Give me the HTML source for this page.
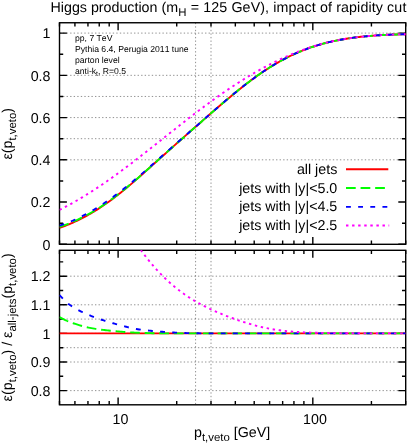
<!DOCTYPE html>
<html><head><meta charset="utf-8"><title>Higgs production</title>
<style>html,body{margin:0;padding:0;background:#fff}body{width:407px;height:443px;overflow:hidden;font-family:"Liberation Sans",sans-serif}svg text{font-family:"Liberation Sans",sans-serif;font-kerning:none;text-rendering:geometricPrecision}svg{opacity:0.999;will-change:transform}</style>
</head><body>
<svg width="407" height="443" viewBox="0 0 407 443" style="display:block;font-family:'Liberation Sans',sans-serif">
<rect width="407" height="443" fill="#fff"/>
<defs>
<clipPath id="ct"><rect x="59.5" y="22.75" width="346.2" height="221.55"/></clipPath>
<clipPath id="cb"><rect x="59.5" y="250.3" width="346.2" height="154.5"/></clipPath>
</defs>
<g fill="none"><path d="M59.5,33.10H405.7" stroke="#222" stroke-width="0.5" stroke-dasharray="1.35,2.2"/><path d="M59.5,75.34H405.7" stroke="#222" stroke-width="0.5" stroke-dasharray="1.35,2.2"/><path d="M59.5,96.46H405.7" stroke="#222" stroke-width="0.5" stroke-dasharray="1.35,2.2"/><path d="M59.5,117.58H405.7" stroke="#222" stroke-width="0.5" stroke-dasharray="1.35,2.2"/><path d="M59.5,138.70H405.7" stroke="#222" stroke-width="0.5" stroke-dasharray="1.35,2.2"/><path d="M59.5,159.82H405.7" stroke="#222" stroke-width="0.5" stroke-dasharray="1.35,2.2"/><path d="M195.59,22.75V244.3" stroke="#222" stroke-width="0.5" stroke-dasharray="1.35,2.2"/><path d="M195.59,250.3V404.8" stroke="#222" stroke-width="0.5" stroke-dasharray="1.35,2.2"/><path d="M211.00,22.75V244.3" stroke="#222" stroke-width="0.5" stroke-dasharray="1.35,2.2"/><path d="M211.00,250.3V404.8" stroke="#222" stroke-width="0.5" stroke-dasharray="1.35,2.2"/><path d="M59.5,276.18H405.7" stroke="#222" stroke-width="0.5" stroke-dasharray="1.35,2.2"/><path d="M59.5,304.79H405.7" stroke="#222" stroke-width="0.5" stroke-dasharray="1.35,2.2"/><path d="M59.5,319.09H405.7" stroke="#222" stroke-width="0.5" stroke-dasharray="1.35,2.2"/><path d="M59.5,333.40H405.7" stroke="#222" stroke-width="0.5" stroke-dasharray="1.35,2.2"/><path d="M59.5,347.70H405.7" stroke="#222" stroke-width="0.5" stroke-dasharray="1.35,2.2"/><path d="M59.5,362.01H405.7" stroke="#222" stroke-width="0.5" stroke-dasharray="1.35,2.2"/><path d="M59.5,390.62H405.7" stroke="#222" stroke-width="0.5" stroke-dasharray="1.35,2.2"/></g>
<path d="M74.92,244.3v-3.7M74.92,22.75v3.7M74.92,404.8v-3.7M74.92,250.3v3.7M87.95,244.3v-3.7M87.95,22.75v3.7M87.95,404.8v-3.7M87.95,250.3v3.7M99.24,244.3v-3.7M99.24,22.75v3.7M99.24,404.8v-3.7M99.24,250.3v3.7M109.20,244.3v-3.7M109.20,22.75v3.7M109.20,404.8v-3.7M109.20,250.3v3.7M176.72,244.3v-3.7M176.72,22.75v3.7M176.72,404.8v-3.7M176.72,250.3v3.7M211.00,244.3v-3.7M211.00,22.75v3.7M211.00,404.8v-3.7M211.00,250.3v3.7M235.33,244.3v-3.7M235.33,22.75v3.7M235.33,404.8v-3.7M235.33,250.3v3.7M254.20,244.3v-3.7M254.20,22.75v3.7M254.20,404.8v-3.7M254.20,250.3v3.7M269.61,244.3v-3.7M269.61,22.75v3.7M269.61,404.8v-3.7M269.61,250.3v3.7M282.65,244.3v-3.7M282.65,22.75v3.7M282.65,404.8v-3.7M282.65,250.3v3.7M293.94,244.3v-3.7M293.94,22.75v3.7M293.94,404.8v-3.7M293.94,250.3v3.7M303.90,244.3v-3.7M303.90,22.75v3.7M303.90,404.8v-3.7M303.90,250.3v3.7M371.42,244.3v-3.7M371.42,22.75v3.7M371.42,404.8v-3.7M371.42,250.3v3.7M405.70,244.3v-3.7M405.70,22.75v3.7M405.70,404.8v-3.7M405.70,250.3v3.7M59.50,244.3v-3.7M59.50,22.75v3.7M59.50,404.8v-3.7M59.50,250.3v3.7M118.11,244.3v-7.4M118.11,22.75v7.4M118.11,404.8v-7.4M118.11,250.3v7.4M312.81,244.3v-7.4M312.81,22.75v7.4M312.81,404.8v-7.4M312.81,250.3v7.4M59.5,244.30h7.4M405.7,244.30h-7.4M59.5,223.18h3.7M405.7,223.18h-3.7M59.5,202.06h7.4M405.7,202.06h-7.4M59.5,180.94h3.7M405.7,180.94h-3.7M59.5,159.82h7.4M405.7,159.82h-7.4M59.5,138.70h3.7M405.7,138.70h-3.7M59.5,117.58h7.4M405.7,117.58h-7.4M59.5,96.46h3.7M405.7,96.46h-3.7M59.5,75.34h7.4M405.7,75.34h-7.4M59.5,54.22h3.7M405.7,54.22h-3.7M59.5,33.10h7.4M405.7,33.10h-7.4M59.5,390.62h7.4M405.7,390.62h-7.4M59.5,376.31h3.7M405.7,376.31h-3.7M59.5,362.01h7.4M405.7,362.01h-7.4M59.5,347.70h3.7M405.7,347.70h-3.7M59.5,333.40h7.4M405.7,333.40h-7.4M59.5,319.09h3.7M405.7,319.09h-3.7M59.5,304.79h7.4M405.7,304.79h-7.4M59.5,290.48h3.7M405.7,290.48h-3.7M59.5,276.18h7.4M405.7,276.18h-7.4M59.5,261.88h3.7M405.7,261.88h-3.7" stroke="#000" stroke-width="1.4" fill="none"/>
<rect x="59.5" y="22.75" width="346.2" height="221.55" fill="none" stroke="#000" stroke-width="1.4"/>
<rect x="59.5" y="250.3" width="346.2" height="154.5" fill="none" stroke="#000" stroke-width="1.4"/>
<g fill="none" stroke-width="1.9" clip-path="url(#ct)">
<path d="M59.50,227.90 L60.95,227.38 L62.40,226.86 L63.85,226.31 L65.29,225.76 L66.74,225.19 L68.19,224.61 L69.64,224.01 L71.09,223.39 L72.54,222.76 L73.99,222.12 L75.43,221.46 L76.88,220.78 L78.33,220.09 L79.78,219.38 L81.23,218.66 L82.68,217.91 L84.13,217.16 L85.57,216.38 L87.02,215.59 L88.47,214.79 L89.92,213.96 L91.37,213.13 L92.82,212.27 L94.26,211.40 L95.71,210.51 L97.16,209.60 L98.61,208.68 L100.06,207.74 L101.51,206.78 L102.96,205.81 L104.40,204.82 L105.85,203.82 L107.30,202.80 L108.75,201.77 L110.20,200.72 L111.65,199.65 L113.10,198.57 L114.54,197.48 L115.99,196.37 L117.44,195.25 L118.89,194.12 L120.34,192.97 L121.79,191.81 L123.24,190.63 L124.68,189.45 L126.13,188.25 L127.58,187.05 L129.03,185.83 L130.48,184.60 L131.93,183.37 L133.38,182.12 L134.82,180.87 L136.27,179.61 L137.72,178.34 L139.17,177.06 L140.62,175.78 L142.07,174.50 L143.52,173.21 L144.96,171.91 L146.41,170.61 L147.86,169.31 L149.31,168.01 L150.76,166.70 L152.21,165.40 L153.65,164.09 L155.10,162.78 L156.55,161.48 L158.00,160.17 L159.45,158.87 L160.90,157.57 L162.35,156.27 L163.79,154.97 L165.24,153.67 L166.69,152.37 L168.14,151.08 L169.59,149.78 L171.04,148.49 L172.49,147.20 L173.93,145.91 L175.38,144.62 L176.83,143.33 L178.28,142.05 L179.73,140.77 L181.18,139.48 L182.63,138.20 L184.07,136.92 L185.52,135.65 L186.97,134.37 L188.42,133.09 L189.87,131.82 L191.32,130.54 L192.77,129.27 L194.21,128.00 L195.66,126.73 L197.11,125.46 L198.56,124.19 L200.01,122.92 L201.46,121.66 L202.91,120.39 L204.35,119.12 L205.80,117.86 L207.25,116.60 L208.70,115.33 L210.15,114.07 L211.60,112.81 L213.04,111.55 L214.49,110.29 L215.94,109.04 L217.39,107.79 L218.84,106.54 L220.29,105.29 L221.74,104.04 L223.18,102.80 L224.63,101.57 L226.08,100.34 L227.53,99.11 L228.98,97.90 L230.43,96.68 L231.88,95.48 L233.32,94.28 L234.77,93.08 L236.22,91.90 L237.67,90.72 L239.12,89.55 L240.57,88.39 L242.02,87.24 L243.46,86.10 L244.91,84.97 L246.36,83.85 L247.81,82.74 L249.26,81.64 L250.71,80.55 L252.16,79.47 L253.60,78.41 L255.05,77.36 L256.50,76.31 L257.95,75.29 L259.40,74.27 L260.85,73.27 L262.29,72.28 L263.74,71.30 L265.19,70.34 L266.64,69.39 L268.09,68.46 L269.54,67.54 L270.99,66.63 L272.43,65.74 L273.88,64.86 L275.33,64.00 L276.78,63.15 L278.23,62.32 L279.68,61.50 L281.13,60.69 L282.57,59.90 L284.02,59.13 L285.47,58.37 L286.92,57.63 L288.37,56.90 L289.82,56.19 L291.27,55.49 L292.71,54.80 L294.16,54.13 L295.61,53.48 L297.06,52.84 L298.51,52.21 L299.96,51.60 L301.41,51.01 L302.85,50.42 L304.30,49.85 L305.75,49.30 L307.20,48.76 L308.65,48.23 L310.10,47.72 L311.55,47.22 L312.99,46.73 L314.44,46.26 L315.89,45.80 L317.34,45.35 L318.79,44.91 L320.24,44.49 L321.68,44.07 L323.13,43.67 L324.58,43.29 L326.03,42.91 L327.48,42.54 L328.93,42.19 L330.38,41.85 L331.82,41.51 L333.27,41.19 L334.72,40.88 L336.17,40.58 L337.62,40.29 L339.07,40.00 L340.52,39.73 L341.96,39.47 L343.41,39.21 L344.86,38.97 L346.31,38.73 L347.76,38.51 L349.21,38.29 L350.66,38.07 L352.10,37.87 L353.55,37.67 L355.00,37.49 L356.45,37.30 L357.90,37.13 L359.35,36.96 L360.80,36.80 L362.24,36.64 L363.69,36.50 L365.14,36.35 L366.59,36.21 L368.04,36.08 L369.49,35.96 L370.94,35.83 L372.38,35.72 L373.83,35.60 L375.28,35.50 L376.73,35.40 L378.18,35.30 L379.63,35.21 L381.07,35.12 L382.52,35.04 L383.97,34.96 L385.42,34.88 L386.87,34.81 L388.32,34.75 L389.77,34.69 L391.21,34.63 L392.66,34.57 L394.11,34.52 L395.56,34.48 L397.01,34.43 L398.46,34.39 L399.91,34.36 L401.35,34.32 L402.80,34.29 L404.25,34.27 L405.70,34.24" stroke="#ff0000"/>
<path d="M59.50,226.96 L60.95,226.46 L62.40,225.96 L63.85,225.43 L65.29,224.90 L66.74,224.34 L68.19,223.78 L69.64,223.19 L71.09,222.59 L72.54,221.98 L73.99,221.35 L75.43,220.70 L76.88,220.04 L78.33,219.37 L79.78,218.68 L81.23,217.97 L82.68,217.25 L84.13,216.51 L85.57,215.75 L87.02,214.98 L88.47,214.19 L89.92,213.38 L91.37,212.55 L92.82,211.71 L94.26,210.85 L95.71,209.97 L97.16,209.08 L98.61,208.17 L100.06,207.24 L101.51,206.30 L102.96,205.34 L104.40,204.36 L105.85,203.37 L107.30,202.37 L108.75,201.34 L110.20,200.31 L111.65,199.26 L113.10,198.19 L114.54,197.11 L115.99,196.01 L117.44,194.90 L118.89,193.78 L120.34,192.65 L121.79,191.50 L123.24,190.34 L124.68,189.17 L126.13,187.99 L127.58,186.80 L129.03,185.60 L130.48,184.39 L131.93,183.16 L133.38,181.93 L134.82,180.69 L136.27,179.44 L137.72,178.19 L139.17,176.92 L140.62,175.65 L142.07,174.38 L143.52,173.09 L144.96,171.81 L146.41,170.52 L147.86,169.23 L149.31,167.94 L150.76,166.64 L152.21,165.34 L153.65,164.04 L155.10,162.74 L156.55,161.44 L158.00,160.14 L159.45,158.84 L160.90,157.54 L162.35,156.24 L163.79,154.94 L165.24,153.65 L166.69,152.35 L168.14,151.06 L169.59,149.77 L171.04,148.47 L172.49,147.18 L173.93,145.90 L175.38,144.61 L176.83,143.32 L178.28,142.04 L179.73,140.76 L181.18,139.48 L182.63,138.20 L184.07,136.92 L185.52,135.64 L186.97,134.36 L188.42,133.09 L189.87,131.82 L191.32,130.54 L192.77,129.27 L194.21,128.00 L195.66,126.73 L197.11,125.46 L198.56,124.19 L200.01,122.92 L201.46,121.66 L202.91,120.39 L204.35,119.12 L205.80,117.86 L207.25,116.60 L208.70,115.33 L210.15,114.07 L211.60,112.81 L213.04,111.55 L214.49,110.29 L215.94,109.04 L217.39,107.79 L218.84,106.54 L220.29,105.29 L221.74,104.04 L223.18,102.80 L224.63,101.57 L226.08,100.34 L227.53,99.11 L228.98,97.90 L230.43,96.68 L231.88,95.48 L233.32,94.28 L234.77,93.08 L236.22,91.90 L237.67,90.72 L239.12,89.55 L240.57,88.39 L242.02,87.24 L243.46,86.10 L244.91,84.97 L246.36,83.85 L247.81,82.74 L249.26,81.64 L250.71,80.55 L252.16,79.47 L253.60,78.41 L255.05,77.36 L256.50,76.31 L257.95,75.29 L259.40,74.27 L260.85,73.27 L262.29,72.28 L263.74,71.30 L265.19,70.34 L266.64,69.39 L268.09,68.46 L269.54,67.54 L270.99,66.63 L272.43,65.74 L273.88,64.86 L275.33,64.00 L276.78,63.15 L278.23,62.32 L279.68,61.50 L281.13,60.69 L282.57,59.90 L284.02,59.13 L285.47,58.37 L286.92,57.63 L288.37,56.90 L289.82,56.19 L291.27,55.49 L292.71,54.80 L294.16,54.13 L295.61,53.48 L297.06,52.84 L298.51,52.21 L299.96,51.60 L301.41,51.01 L302.85,50.42 L304.30,49.85 L305.75,49.30 L307.20,48.76 L308.65,48.23 L310.10,47.72 L311.55,47.22 L312.99,46.73 L314.44,46.26 L315.89,45.80 L317.34,45.35 L318.79,44.91 L320.24,44.49 L321.68,44.07 L323.13,43.67 L324.58,43.29 L326.03,42.91 L327.48,42.54 L328.93,42.19 L330.38,41.85 L331.82,41.51 L333.27,41.19 L334.72,40.88 L336.17,40.58 L337.62,40.29 L339.07,40.00 L340.52,39.73 L341.96,39.47 L343.41,39.21 L344.86,38.97 L346.31,38.73 L347.76,38.51 L349.21,38.29 L350.66,38.07 L352.10,37.87 L353.55,37.67 L355.00,37.49 L356.45,37.30 L357.90,37.13 L359.35,36.96 L360.80,36.80 L362.24,36.64 L363.69,36.50 L365.14,36.35 L366.59,36.21 L368.04,36.08 L369.49,35.96 L370.94,35.83 L372.38,35.72 L373.83,35.60 L375.28,35.50 L376.73,35.40 L378.18,35.30 L379.63,35.21 L381.07,35.12 L382.52,35.04 L383.97,34.96 L385.42,34.88 L386.87,34.81 L388.32,34.75 L389.77,34.69 L391.21,34.63 L392.66,34.57 L394.11,34.52 L395.56,34.48 L397.01,34.43 L398.46,34.39 L399.91,34.36 L401.35,34.32 L402.80,34.29 L404.25,34.27 L405.70,34.24" stroke="#00ff00" stroke-dasharray="9.72,4.86"/>
<path d="M59.50,225.70 L60.95,225.21 L62.40,224.71 L63.85,224.19 L65.29,223.67 L66.74,223.12 L68.19,222.56 L69.64,221.97 L71.09,221.37 L72.54,220.75 L73.99,220.11 L75.43,219.46 L76.88,218.80 L78.33,218.11 L79.78,217.41 L81.23,216.70 L82.68,215.96 L84.13,215.22 L85.57,214.45 L87.02,213.67 L88.47,212.87 L89.92,212.06 L91.37,211.23 L92.82,210.39 L94.26,209.53 L95.71,208.65 L97.16,207.76 L98.61,206.85 L100.06,205.93 L101.51,204.99 L102.96,204.04 L104.40,203.07 L105.85,202.08 L107.30,201.09 L108.75,200.07 L110.20,199.05 L111.65,198.01 L113.10,196.95 L114.54,195.89 L115.99,194.81 L117.44,193.72 L118.89,192.62 L120.34,191.51 L121.79,190.38 L123.24,189.25 L124.68,188.11 L126.13,186.96 L127.58,185.80 L129.03,184.63 L130.48,183.44 L131.93,182.25 L133.38,181.05 L134.82,179.84 L136.27,178.61 L137.72,177.38 L139.17,176.14 L140.62,174.89 L142.07,173.63 L143.52,172.37 L144.96,171.10 L146.41,169.83 L147.86,168.55 L149.31,167.28 L150.76,166.00 L152.21,164.72 L153.65,163.44 L155.10,162.15 L156.55,160.87 L158.00,159.59 L159.45,158.32 L160.90,157.04 L162.35,155.76 L163.79,154.49 L165.24,153.22 L166.69,151.95 L168.14,150.68 L169.59,149.41 L171.04,148.14 L172.49,146.87 L173.93,145.61 L175.38,144.34 L176.83,143.08 L178.28,141.81 L179.73,140.55 L181.18,139.29 L182.63,138.03 L184.07,136.77 L185.52,135.50 L186.97,134.24 L188.42,132.99 L189.87,131.73 L191.32,130.47 L192.77,129.21 L194.21,127.95 L195.66,126.69 L197.11,125.42 L198.56,124.16 L200.01,122.89 L201.46,121.63 L202.91,120.36 L204.35,119.10 L205.80,117.84 L207.25,116.58 L208.70,115.32 L210.15,114.06 L211.60,112.80 L213.04,111.54 L214.49,110.29 L215.94,109.03 L217.39,107.78 L218.84,106.53 L220.29,105.28 L221.74,104.04 L223.18,102.80 L224.63,101.57 L226.08,100.34 L227.53,99.11 L228.98,97.90 L230.43,96.68 L231.88,95.48 L233.32,94.28 L234.77,93.08 L236.22,91.90 L237.67,90.72 L239.12,89.55 L240.57,88.39 L242.02,87.24 L243.46,86.10 L244.91,84.97 L246.36,83.85 L247.81,82.74 L249.26,81.64 L250.71,80.55 L252.16,79.47 L253.60,78.41 L255.05,77.36 L256.50,76.31 L257.95,75.29 L259.40,74.27 L260.85,73.27 L262.29,72.28 L263.74,71.30 L265.19,70.34 L266.64,69.39 L268.09,68.46 L269.54,67.54 L270.99,66.63 L272.43,65.74 L273.88,64.86 L275.33,64.00 L276.78,63.15 L278.23,62.32 L279.68,61.50 L281.13,60.69 L282.57,59.90 L284.02,59.13 L285.47,58.37 L286.92,57.63 L288.37,56.90 L289.82,56.19 L291.27,55.49 L292.71,54.80 L294.16,54.13 L295.61,53.48 L297.06,52.84 L298.51,52.21 L299.96,51.60 L301.41,51.01 L302.85,50.42 L304.30,49.85 L305.75,49.30 L307.20,48.76 L308.65,48.23 L310.10,47.72 L311.55,47.22 L312.99,46.73 L314.44,46.26 L315.89,45.80 L317.34,45.35 L318.79,44.91 L320.24,44.49 L321.68,44.07 L323.13,43.67 L324.58,43.29 L326.03,42.91 L327.48,42.54 L328.93,42.19 L330.38,41.85 L331.82,41.51 L333.27,41.19 L334.72,40.88 L336.17,40.58 L337.62,40.29 L339.07,40.00 L340.52,39.73 L341.96,39.47 L343.41,39.21 L344.86,38.97 L346.31,38.73 L347.76,38.51 L349.21,38.29 L350.66,38.07 L352.10,37.87 L353.55,37.67 L355.00,37.49 L356.45,37.30 L357.90,37.13 L359.35,36.96 L360.80,36.80 L362.24,36.64 L363.69,36.50 L365.14,36.35 L366.59,36.21 L368.04,36.08 L369.49,35.96 L370.94,35.83 L372.38,35.72 L373.83,35.60 L375.28,35.50 L376.73,35.40 L378.18,35.30 L379.63,35.21 L381.07,35.12 L382.52,35.04 L383.97,34.96 L385.42,34.88 L386.87,34.81 L388.32,34.75 L389.77,34.69 L391.21,34.63 L392.66,34.57 L394.11,34.52 L395.56,34.48 L397.01,34.43 L398.46,34.39 L399.91,34.36 L401.35,34.32 L402.80,34.29 L404.25,34.27 L405.70,34.24" stroke="#0000ff" stroke-dasharray="4.86,7.29"/>
<path d="M59.50,209.95 L60.95,209.22 L62.40,208.47 L63.85,207.72 L65.29,206.95 L66.74,206.18 L68.19,205.40 L69.64,204.61 L71.09,203.80 L72.54,202.99 L73.99,202.17 L75.43,201.34 L76.88,200.51 L78.33,199.66 L79.78,198.80 L81.23,197.94 L82.68,197.07 L84.13,196.18 L85.57,195.29 L87.02,194.40 L88.47,193.49 L89.92,192.57 L91.37,191.65 L92.82,190.72 L94.26,189.78 L95.71,188.83 L97.16,187.87 L98.61,186.91 L100.06,185.94 L101.51,184.96 L102.96,183.98 L104.40,182.98 L105.85,181.98 L107.30,180.98 L108.75,179.96 L110.20,178.94 L111.65,177.92 L113.10,176.88 L114.54,175.84 L115.99,174.80 L117.44,173.75 L118.89,172.69 L120.34,171.63 L121.79,170.56 L123.24,169.48 L124.68,168.41 L126.13,167.32 L127.58,166.23 L129.03,165.14 L130.48,164.04 L131.93,162.94 L133.38,161.83 L134.82,160.72 L136.27,159.61 L137.72,158.49 L139.17,157.37 L140.62,156.25 L142.07,155.12 L143.52,153.99 L144.96,152.86 L146.41,151.72 L147.86,150.58 L149.31,149.44 L150.76,148.30 L152.21,147.16 L153.65,146.01 L155.10,144.86 L156.55,143.71 L158.00,142.56 L159.45,141.41 L160.90,140.26 L162.35,139.11 L163.79,137.96 L165.24,136.81 L166.69,135.66 L168.14,134.51 L169.59,133.36 L171.04,132.21 L172.49,131.06 L173.93,129.91 L175.38,128.76 L176.83,127.62 L178.28,126.47 L179.73,125.33 L181.18,124.19 L182.63,123.05 L184.07,121.92 L185.52,120.78 L186.97,119.65 L188.42,118.53 L189.87,117.40 L191.32,116.28 L192.77,115.17 L194.21,114.05 L195.66,112.95 L197.11,111.84 L198.56,110.74 L200.01,109.64 L201.46,108.55 L202.91,107.47 L204.35,106.38 L205.80,105.31 L207.25,104.24 L208.70,103.17 L210.15,102.11 L211.60,101.06 L213.04,100.01 L214.49,98.97 L215.94,97.93 L217.39,96.90 L218.84,95.88 L220.29,94.86 L221.74,93.85 L223.18,92.84 L224.63,91.85 L226.08,90.85 L227.53,89.87 L228.98,88.89 L230.43,87.92 L231.88,86.96 L233.32,86.00 L234.77,85.05 L236.22,84.11 L237.67,83.17 L239.12,82.24 L240.57,81.32 L242.02,80.41 L243.46,79.50 L244.91,78.60 L246.36,77.71 L247.81,76.83 L249.26,75.96 L250.71,75.09 L252.16,74.23 L253.60,73.38 L255.05,72.54 L256.50,71.71 L257.95,70.88 L259.40,70.07 L260.85,69.26 L262.29,68.46 L263.74,67.67 L265.19,66.89 L266.64,66.11 L268.09,65.35 L269.54,64.59 L270.99,63.85 L272.43,63.11 L273.88,62.38 L275.33,61.66 L276.78,60.96 L278.23,60.26 L279.68,59.57 L281.13,58.89 L282.57,58.21 L284.02,57.55 L285.47,56.90 L286.92,56.26 L288.37,55.63 L289.82,55.01 L291.27,54.39 L292.71,53.79 L294.16,53.20 L295.61,52.62 L297.06,52.04 L298.51,51.48 L299.96,50.93 L301.41,50.39 L302.85,49.86 L304.30,49.34 L305.75,48.83 L307.20,48.33 L308.65,47.84 L310.10,47.36 L311.55,46.89 L312.99,46.43 L314.44,45.98 L315.89,45.54 L317.34,45.12 L318.79,44.70 L320.24,44.30 L321.68,43.90 L323.13,43.52 L324.58,43.14 L326.03,42.78 L327.48,42.43 L328.93,42.08 L330.38,41.75 L331.82,41.43 L333.27,41.11 L334.72,40.81 L336.17,40.51 L337.62,40.23 L339.07,39.95 L340.52,39.69 L341.96,39.43 L343.41,39.18 L344.86,38.93 L346.31,38.70 L347.76,38.48 L349.21,38.26 L350.66,38.05 L352.10,37.85 L353.55,37.65 L355.00,37.46 L356.45,37.28 L357.90,37.11 L359.35,36.94 L360.80,36.78 L362.24,36.62 L363.69,36.48 L365.14,36.34 L366.59,36.20 L368.04,36.07 L369.49,35.95 L370.94,35.83 L372.38,35.71 L373.83,35.61 L375.28,35.50 L376.73,35.41 L378.18,35.31 L379.63,35.23 L381.07,35.14 L382.52,35.06 L383.97,34.98 L385.42,34.91 L386.87,34.84 L388.32,34.78 L389.77,34.72 L391.21,34.66 L392.66,34.60 L394.11,34.55 L395.56,34.50 L397.01,34.46 L398.46,34.41 L399.91,34.37 L401.35,34.33 L402.80,34.29 L404.25,34.26 L405.70,34.23" stroke="#ff00ff" stroke-dasharray="2.43,3.65"/>
</g>
<g fill="none" stroke-width="1.9" clip-path="url(#cb)">
<path d="M59.50,333.40 L60.95,333.40 L62.40,333.40 L63.85,333.40 L65.29,333.40 L66.74,333.40 L68.19,333.40 L69.64,333.40 L71.09,333.40 L72.54,333.40 L73.99,333.40 L75.43,333.40 L76.88,333.40 L78.33,333.40 L79.78,333.40 L81.23,333.40 L82.68,333.40 L84.13,333.40 L85.57,333.40 L87.02,333.40 L88.47,333.40 L89.92,333.40 L91.37,333.40 L92.82,333.40 L94.26,333.40 L95.71,333.40 L97.16,333.40 L98.61,333.40 L100.06,333.40 L101.51,333.40 L102.96,333.40 L104.40,333.40 L105.85,333.40 L107.30,333.40 L108.75,333.40 L110.20,333.40 L111.65,333.40 L113.10,333.40 L114.54,333.40 L115.99,333.40 L117.44,333.40 L118.89,333.40 L120.34,333.40 L121.79,333.40 L123.24,333.40 L124.68,333.40 L126.13,333.40 L127.58,333.40 L129.03,333.40 L130.48,333.40 L131.93,333.40 L133.38,333.40 L134.82,333.40 L136.27,333.40 L137.72,333.40 L139.17,333.40 L140.62,333.40 L142.07,333.40 L143.52,333.40 L144.96,333.40 L146.41,333.40 L147.86,333.40 L149.31,333.40 L150.76,333.40 L152.21,333.40 L153.65,333.40 L155.10,333.40 L156.55,333.40 L158.00,333.40 L159.45,333.40 L160.90,333.40 L162.35,333.40 L163.79,333.40 L165.24,333.40 L166.69,333.40 L168.14,333.40 L169.59,333.40 L171.04,333.40 L172.49,333.40 L173.93,333.40 L175.38,333.40 L176.83,333.40 L178.28,333.40 L179.73,333.40 L181.18,333.40 L182.63,333.40 L184.07,333.40 L185.52,333.40 L186.97,333.40 L188.42,333.40 L189.87,333.40 L191.32,333.40 L192.77,333.40 L194.21,333.40 L195.66,333.40 L197.11,333.40 L198.56,333.40 L200.01,333.40 L201.46,333.40 L202.91,333.40 L204.35,333.40 L205.80,333.40 L207.25,333.40 L208.70,333.40 L210.15,333.40 L211.60,333.40 L213.04,333.40 L214.49,333.40 L215.94,333.40 L217.39,333.40 L218.84,333.40 L220.29,333.40 L221.74,333.40 L223.18,333.40 L224.63,333.40 L226.08,333.40 L227.53,333.40 L228.98,333.40 L230.43,333.40 L231.88,333.40 L233.32,333.40 L234.77,333.40 L236.22,333.40 L237.67,333.40 L239.12,333.40 L240.57,333.40 L242.02,333.40 L243.46,333.40 L244.91,333.40 L246.36,333.40 L247.81,333.40 L249.26,333.40 L250.71,333.40 L252.16,333.40 L253.60,333.40 L255.05,333.40 L256.50,333.40 L257.95,333.40 L259.40,333.40 L260.85,333.40 L262.29,333.40 L263.74,333.40 L265.19,333.40 L266.64,333.40 L268.09,333.40 L269.54,333.40 L270.99,333.40 L272.43,333.40 L273.88,333.40 L275.33,333.40 L276.78,333.40 L278.23,333.40 L279.68,333.40 L281.13,333.40 L282.57,333.40 L284.02,333.40 L285.47,333.40 L286.92,333.40 L288.37,333.40 L289.82,333.40 L291.27,333.40 L292.71,333.40 L294.16,333.40 L295.61,333.40 L297.06,333.40 L298.51,333.40 L299.96,333.40 L301.41,333.40 L302.85,333.40 L304.30,333.40 L305.75,333.40 L307.20,333.40 L308.65,333.40 L310.10,333.40 L311.55,333.40 L312.99,333.40 L314.44,333.40 L315.89,333.40 L317.34,333.40 L318.79,333.40 L320.24,333.40 L321.68,333.40 L323.13,333.40 L324.58,333.40 L326.03,333.40 L327.48,333.40 L328.93,333.40 L330.38,333.40 L331.82,333.40 L333.27,333.40 L334.72,333.40 L336.17,333.40 L337.62,333.40 L339.07,333.40 L340.52,333.40 L341.96,333.40 L343.41,333.40 L344.86,333.40 L346.31,333.40 L347.76,333.40 L349.21,333.40 L350.66,333.40 L352.10,333.40 L353.55,333.40 L355.00,333.40 L356.45,333.40 L357.90,333.40 L359.35,333.40 L360.80,333.40 L362.24,333.40 L363.69,333.40 L365.14,333.40 L366.59,333.40 L368.04,333.40 L369.49,333.40 L370.94,333.40 L372.38,333.40 L373.83,333.40 L375.28,333.40 L376.73,333.40 L378.18,333.40 L379.63,333.40 L381.07,333.40 L382.52,333.40 L383.97,333.40 L385.42,333.40 L386.87,333.40 L388.32,333.40 L389.77,333.40 L391.21,333.40 L392.66,333.40 L394.11,333.40 L395.56,333.40 L397.01,333.40 L398.46,333.40 L399.91,333.40 L401.35,333.40 L402.80,333.40 L404.25,333.40 L405.70,333.40" stroke="#ff0000"/>
<path d="M59.50,317.09 L60.95,317.87 L62.40,318.63 L63.85,319.37 L65.29,320.08 L66.74,320.75 L68.19,321.37 L69.64,321.93 L71.09,322.46 L72.54,322.98 L73.99,323.48 L75.43,323.97 L76.88,324.44 L78.33,324.90 L79.78,325.34 L81.23,325.77 L82.68,326.17 L84.13,326.56 L85.57,326.92 L87.02,327.27 L88.47,327.59 L89.92,327.88 L91.37,328.16 L92.82,328.41 L94.26,328.64 L95.71,328.87 L97.16,329.09 L98.61,329.30 L100.06,329.50 L101.51,329.70 L102.96,329.88 L104.40,330.06 L105.85,330.23 L107.30,330.40 L108.75,330.55 L110.20,330.70 L111.65,330.85 L113.10,330.99 L114.54,331.12 L115.99,331.25 L117.44,331.38 L118.89,331.50 L120.34,331.62 L121.79,331.73 L123.24,331.85 L124.68,331.96 L126.13,332.06 L127.58,332.17 L129.03,332.27 L130.48,332.36 L131.93,332.45 L133.38,332.53 L134.82,332.61 L136.27,332.68 L137.72,332.75 L139.17,332.81 L140.62,332.86 L142.07,332.91 L143.52,332.95 L144.96,333.00 L146.41,333.05 L147.86,333.09 L149.31,333.13 L150.76,333.17 L152.21,333.20 L153.65,333.24 L155.10,333.26 L156.55,333.28 L158.00,333.30 L159.45,333.31 L160.90,333.32 L162.35,333.32 L163.79,333.33 L165.24,333.34 L166.69,333.34 L168.14,333.35 L169.59,333.35 L171.04,333.36 L172.49,333.36 L173.93,333.36 L175.38,333.37 L176.83,333.37 L178.28,333.37 L179.73,333.38 L181.18,333.38 L182.63,333.38 L184.07,333.39 L185.52,333.39 L186.97,333.39 L188.42,333.39 L189.87,333.39 L191.32,333.40 L192.77,333.40 L194.21,333.40 L195.66,333.40 L197.11,333.40 L198.56,333.40 L200.01,333.40 L201.46,333.40 L202.91,333.40 L204.35,333.40 L205.80,333.40 L207.25,333.40 L208.70,333.40 L210.15,333.40 L211.60,333.40 L213.04,333.40 L214.49,333.40 L215.94,333.40 L217.39,333.40 L218.84,333.40 L220.29,333.40 L221.74,333.40 L223.18,333.40 L224.63,333.40 L226.08,333.40 L227.53,333.40 L228.98,333.40 L230.43,333.40 L231.88,333.40 L233.32,333.40 L234.77,333.40 L236.22,333.40 L237.67,333.40 L239.12,333.40 L240.57,333.40 L242.02,333.40 L243.46,333.40 L244.91,333.40 L246.36,333.40 L247.81,333.40 L249.26,333.40 L250.71,333.40 L252.16,333.40 L253.60,333.40 L255.05,333.40 L256.50,333.40 L257.95,333.40 L259.40,333.40 L260.85,333.40 L262.29,333.40 L263.74,333.40 L265.19,333.40 L266.64,333.40 L268.09,333.40 L269.54,333.40 L270.99,333.40 L272.43,333.40 L273.88,333.40 L275.33,333.40 L276.78,333.40 L278.23,333.40 L279.68,333.40 L281.13,333.40 L282.57,333.40 L284.02,333.40 L285.47,333.40 L286.92,333.40 L288.37,333.40 L289.82,333.40 L291.27,333.40 L292.71,333.40 L294.16,333.40 L295.61,333.40 L297.06,333.40 L298.51,333.40 L299.96,333.40 L301.41,333.40 L302.85,333.40 L304.30,333.40 L305.75,333.40 L307.20,333.40 L308.65,333.40 L310.10,333.40 L311.55,333.40 L312.99,333.40 L314.44,333.40 L315.89,333.40 L317.34,333.40 L318.79,333.40 L320.24,333.40 L321.68,333.40 L323.13,333.40 L324.58,333.40 L326.03,333.40 L327.48,333.40 L328.93,333.40 L330.38,333.40 L331.82,333.40 L333.27,333.40 L334.72,333.40 L336.17,333.40 L337.62,333.40 L339.07,333.40 L340.52,333.40 L341.96,333.40 L343.41,333.40 L344.86,333.40 L346.31,333.40 L347.76,333.40 L349.21,333.40 L350.66,333.40 L352.10,333.40 L353.55,333.40 L355.00,333.40 L356.45,333.40 L357.90,333.40 L359.35,333.40 L360.80,333.40 L362.24,333.40 L363.69,333.40 L365.14,333.40 L366.59,333.40 L368.04,333.40 L369.49,333.40 L370.94,333.40 L372.38,333.40 L373.83,333.40 L375.28,333.40 L376.73,333.40 L378.18,333.40 L379.63,333.40 L381.07,333.40 L382.52,333.40 L383.97,333.40 L385.42,333.40 L386.87,333.40 L388.32,333.40 L389.77,333.40 L391.21,333.40 L392.66,333.40 L394.11,333.40 L395.56,333.40 L397.01,333.40 L398.46,333.40 L399.91,333.40 L401.35,333.40 L402.80,333.40 L404.25,333.40 L405.70,333.40" stroke="#00ff00" stroke-dasharray="9.72,4.86"/>
<path d="M59.50,295.06 L60.95,296.64 L62.40,298.18 L63.85,299.68 L65.29,301.11 L66.74,302.44 L68.19,303.66 L69.64,304.75 L71.09,305.73 L72.54,306.68 L73.99,307.58 L75.43,308.44 L76.88,309.27 L78.33,310.06 L79.78,310.82 L81.23,311.55 L82.68,312.25 L84.13,312.93 L85.57,313.58 L87.02,314.22 L88.47,314.83 L89.92,315.43 L91.37,316.02 L92.82,316.60 L94.26,317.15 L95.71,317.70 L97.16,318.22 L98.61,318.74 L100.06,319.24 L101.51,319.73 L102.96,320.20 L104.40,320.67 L105.85,321.12 L107.30,321.56 L108.75,322.00 L110.20,322.43 L111.65,322.84 L113.10,323.26 L114.54,323.66 L115.99,324.06 L117.44,324.46 L118.89,324.85 L120.34,325.25 L121.79,325.64 L123.24,326.03 L124.68,326.42 L126.13,326.79 L127.58,327.16 L129.03,327.51 L130.48,327.85 L131.93,328.17 L133.38,328.47 L134.82,328.75 L136.27,329.01 L137.72,329.24 L139.17,329.45 L140.62,329.66 L142.07,329.85 L143.52,330.02 L144.96,330.19 L146.41,330.35 L147.86,330.51 L149.31,330.66 L150.76,330.80 L152.21,330.94 L153.65,331.07 L155.10,331.19 L156.55,331.31 L158.00,331.43 L159.45,331.55 L160.90,331.66 L162.35,331.77 L163.79,331.87 L165.24,331.98 L166.69,332.08 L168.14,332.17 L169.59,332.27 L171.04,332.36 L172.49,332.44 L173.93,332.52 L175.38,332.59 L176.83,332.67 L178.28,332.74 L179.73,332.81 L181.18,332.87 L182.63,332.93 L184.07,332.98 L185.52,333.03 L186.97,333.08 L188.42,333.13 L189.87,333.17 L191.32,333.21 L192.77,333.25 L194.21,333.28 L195.66,333.30 L197.11,333.31 L198.56,333.32 L200.01,333.33 L201.46,333.34 L202.91,333.34 L204.35,333.35 L205.80,333.35 L207.25,333.36 L208.70,333.37 L210.15,333.37 L211.60,333.37 L213.04,333.38 L214.49,333.38 L215.94,333.39 L217.39,333.39 L218.84,333.39 L220.29,333.39 L221.74,333.39 L223.18,333.40 L224.63,333.40 L226.08,333.40 L227.53,333.40 L228.98,333.40 L230.43,333.40 L231.88,333.40 L233.32,333.40 L234.77,333.40 L236.22,333.40 L237.67,333.40 L239.12,333.40 L240.57,333.40 L242.02,333.40 L243.46,333.40 L244.91,333.40 L246.36,333.40 L247.81,333.40 L249.26,333.40 L250.71,333.40 L252.16,333.40 L253.60,333.40 L255.05,333.40 L256.50,333.40 L257.95,333.40 L259.40,333.40 L260.85,333.40 L262.29,333.40 L263.74,333.40 L265.19,333.40 L266.64,333.40 L268.09,333.40 L269.54,333.40 L270.99,333.40 L272.43,333.40 L273.88,333.40 L275.33,333.40 L276.78,333.40 L278.23,333.40 L279.68,333.40 L281.13,333.40 L282.57,333.40 L284.02,333.40 L285.47,333.40 L286.92,333.40 L288.37,333.40 L289.82,333.40 L291.27,333.40 L292.71,333.40 L294.16,333.40 L295.61,333.40 L297.06,333.40 L298.51,333.40 L299.96,333.40 L301.41,333.40 L302.85,333.40 L304.30,333.40 L305.75,333.40 L307.20,333.40 L308.65,333.40 L310.10,333.40 L311.55,333.40 L312.99,333.40 L314.44,333.40 L315.89,333.40 L317.34,333.40 L318.79,333.40 L320.24,333.40 L321.68,333.40 L323.13,333.40 L324.58,333.40 L326.03,333.40 L327.48,333.40 L328.93,333.40 L330.38,333.40 L331.82,333.40 L333.27,333.40 L334.72,333.40 L336.17,333.40 L337.62,333.40 L339.07,333.40 L340.52,333.40 L341.96,333.40 L343.41,333.40 L344.86,333.40 L346.31,333.40 L347.76,333.40 L349.21,333.40 L350.66,333.40 L352.10,333.40 L353.55,333.40 L355.00,333.40 L356.45,333.40 L357.90,333.40 L359.35,333.40 L360.80,333.40 L362.24,333.40 L363.69,333.40 L365.14,333.40 L366.59,333.40 L368.04,333.40 L369.49,333.40 L370.94,333.40 L372.38,333.40 L373.83,333.40 L375.28,333.40 L376.73,333.40 L378.18,333.40 L379.63,333.40 L381.07,333.40 L382.52,333.40 L383.97,333.40 L385.42,333.40 L386.87,333.40 L388.32,333.40 L389.77,333.40 L391.21,333.40 L392.66,333.40 L394.11,333.40 L395.56,333.40 L397.01,333.40 L398.46,333.40 L399.91,333.40 L401.35,333.40 L402.80,333.40 L404.25,333.40 L405.70,333.40" stroke="#0000ff" stroke-dasharray="4.86,7.29"/>
<path d="M59.50,22.39 L60.95,29.38 L62.40,36.22 L63.85,42.91 L65.29,49.45 L66.74,55.85 L68.19,62.11 L69.64,68.24 L71.09,74.23 L72.54,80.10 L73.99,85.83 L75.43,91.44 L76.88,96.93 L78.33,102.30 L79.78,107.55 L81.23,112.68 L82.68,117.71 L84.13,122.63 L85.57,127.43 L87.02,132.14 L88.47,136.74 L89.92,141.24 L91.37,145.65 L92.82,149.95 L94.26,154.17 L95.71,158.29 L97.16,162.32 L98.61,166.26 L100.06,170.12 L101.51,173.89 L102.96,177.59 L104.40,181.20 L105.85,184.73 L107.30,188.18 L108.75,191.56 L110.20,194.86 L111.65,198.09 L113.10,201.26 L114.54,204.35 L115.99,207.37 L117.44,210.33 L118.89,213.22 L120.34,216.05 L121.79,218.81 L123.24,221.52 L124.68,224.16 L126.13,226.75 L127.58,229.28 L129.03,231.75 L130.48,234.17 L131.93,236.54 L133.38,238.85 L134.82,241.11 L136.27,243.32 L137.72,245.49 L139.17,247.60 L140.62,249.67 L142.07,251.69 L143.52,253.66 L144.96,255.59 L146.41,257.48 L147.86,259.32 L149.31,261.13 L150.76,262.89 L152.21,264.61 L153.65,266.30 L155.10,267.94 L156.55,269.55 L158.00,271.13 L159.45,272.66 L160.90,274.17 L162.35,275.63 L163.79,277.07 L165.24,278.47 L166.69,279.84 L168.14,281.18 L169.59,282.48 L171.04,283.76 L172.49,285.01 L173.93,286.23 L175.38,287.42 L176.83,288.58 L178.28,289.72 L179.73,290.83 L181.18,291.91 L182.63,292.97 L184.07,294.01 L185.52,295.02 L186.97,296.00 L188.42,296.97 L189.87,297.91 L191.32,298.83 L192.77,299.72 L194.21,300.60 L195.66,301.45 L197.11,302.29 L198.56,303.10 L200.01,303.90 L201.46,304.67 L202.91,305.43 L204.35,306.17 L205.80,306.90 L207.25,307.61 L208.70,308.30 L210.15,308.99 L211.60,309.66 L213.04,310.31 L214.49,310.96 L215.94,311.60 L217.39,312.22 L218.84,312.84 L220.29,313.44 L221.74,314.04 L223.18,314.63 L224.63,315.21 L226.08,315.78 L227.53,316.34 L228.98,316.90 L230.43,317.44 L231.88,317.98 L233.32,318.51 L234.77,319.03 L236.22,319.54 L237.67,320.05 L239.12,320.54 L240.57,321.03 L242.02,321.51 L243.46,321.98 L244.91,322.44 L246.36,322.90 L247.81,323.34 L249.26,323.77 L250.71,324.20 L252.16,324.61 L253.60,325.02 L255.05,325.41 L256.50,325.80 L257.95,326.17 L259.40,326.53 L260.85,326.88 L262.29,327.22 L263.74,327.54 L265.19,327.85 L266.64,328.15 L268.09,328.44 L269.54,328.71 L270.99,328.98 L272.43,329.23 L273.88,329.47 L275.33,329.69 L276.78,329.91 L278.23,330.12 L279.68,330.31 L281.13,330.49 L282.57,330.67 L284.02,330.84 L285.47,330.99 L286.92,331.14 L288.37,331.28 L289.82,331.41 L291.27,331.53 L292.71,331.65 L294.16,331.76 L295.61,331.86 L297.06,331.96 L298.51,332.05 L299.96,332.13 L301.41,332.21 L302.85,332.29 L304.30,332.36 L305.75,332.42 L307.20,332.48 L308.65,332.54 L310.10,332.59 L311.55,332.64 L312.99,332.69 L314.44,332.73 L315.89,332.77 L317.34,332.81 L318.79,332.85 L320.24,332.88 L321.68,332.91 L323.13,332.94 L324.58,332.97 L326.03,333.00 L327.48,333.02 L328.93,333.04 L330.38,333.06 L331.82,333.08 L333.27,333.10 L334.72,333.12 L336.17,333.14 L337.62,333.15 L339.07,333.17 L340.52,333.18 L341.96,333.20 L343.41,333.21 L344.86,333.22 L346.31,333.23 L347.76,333.24 L349.21,333.25 L350.66,333.26 L352.10,333.27 L353.55,333.28 L355.00,333.28 L356.45,333.29 L357.90,333.30 L359.35,333.30 L360.80,333.31 L362.24,333.31 L363.69,333.32 L365.14,333.32 L366.59,333.33 L368.04,333.33 L369.49,333.34 L370.94,333.34 L372.38,333.34 L373.83,333.35 L375.28,333.35 L376.73,333.35 L378.18,333.36 L379.63,333.36 L381.07,333.36 L382.52,333.36 L383.97,333.37 L385.42,333.37 L386.87,333.37 L388.32,333.37 L389.77,333.37 L391.21,333.38 L392.66,333.38 L394.11,333.38 L395.56,333.38 L397.01,333.38 L398.46,333.38 L399.91,333.38 L401.35,333.38 L402.80,333.39 L404.25,333.39 L405.70,333.39" stroke="#ff00ff" stroke-dasharray="2.43,3.65"/>
</g>
<g fill="none" stroke-width="1.9">
<path d="M346.0,169.3H388.3" stroke="#ff0000"/>
<path d="M346.0,188.0H388.3" stroke="#00ff00" stroke-dasharray="9.72,4.86"/>
<path d="M346.0,206.9H388.3" stroke="#0000ff" stroke-dasharray="4.86,7.29"/>
<path d="M346.0,225.5H389.2" stroke="#ff00ff" stroke-dasharray="2.43,3.65"/>
</g>
<g font-size="14.25" fill="#000">
<text x="337.3" y="173.80" text-anchor="end">all jets</text>
<text x="337.3" y="192.50" text-anchor="end">jets with |y|&lt;5.0</text>
<text x="337.3" y="211.40" text-anchor="end">jets with |y|&lt;4.5</text>
<text x="337.3" y="230.00" text-anchor="end">jets with |y|&lt;2.5</text>
<text x="50.5" y="11.6">Higgs production <tspan letter-spacing="0.115">(m<tspan font-size="11.40" dy="4.27">H</tspan><tspan dy="-4.27"> = 125 GeV), impact of rapidity cut</tspan></tspan></text>
<text x="50.5" y="38.35" text-anchor="end">1</text>
<text x="50.5" y="80.59" text-anchor="end">0.8</text>
<text x="50.5" y="122.83" text-anchor="end">0.6</text>
<text x="50.5" y="165.07" text-anchor="end">0.4</text>
<text x="50.5" y="207.31" text-anchor="end">0.2</text>
<text x="50.5" y="249.55" text-anchor="end">0</text>
<text x="50.5" y="281.43" text-anchor="end">1.2</text>
<text x="50.5" y="310.04" text-anchor="end">1.1</text>
<text x="50.5" y="338.65" text-anchor="end">1</text>
<text x="50.5" y="367.26" text-anchor="end">0.9</text>
<text x="50.5" y="395.87" text-anchor="end">0.8</text>
<text x="120.41" y="424.15" text-anchor="middle">10</text>
<text x="315.01" y="424.15" text-anchor="middle">100</text>
<text x="194.0" y="436.6">p<tspan font-size="11.40" dy="4.27">t,veto</tspan><tspan dy="-4.27"> [GeV]</tspan></text>
<text transform="translate(11.5,159.6) rotate(-90)">ε(p<tspan font-size="11.40" dy="4.27">t,veto</tspan><tspan dy="-4.27">)</tspan></text>
<text transform="translate(11.5,401.4) rotate(-90)">ε(p<tspan font-size="11.40" dy="4.27">t,veto</tspan><tspan dy="-4.27">) / ε</tspan><tspan font-size="11.40" dy="4.27">all-jets</tspan><tspan dy="-4.27">(p</tspan><tspan font-size="11.40" dy="4.27">t,veto</tspan><tspan dy="-4.27">)</tspan></text>
</g>
<g font-size="8.63" fill="#000">
<text x="75" y="41.0">pp, 7 TeV</text>
<text x="75" y="52.0">Pythia 6.4, Perugia 2011 tune</text>
<text x="75" y="63.0">parton level</text>
<text x="75" y="73.6">anti-k<tspan font-size="6.90" dy="2.59">t</tspan><tspan dy="-2.59">, R=0.5</tspan></text>
</g>
</svg>
</body></html>
